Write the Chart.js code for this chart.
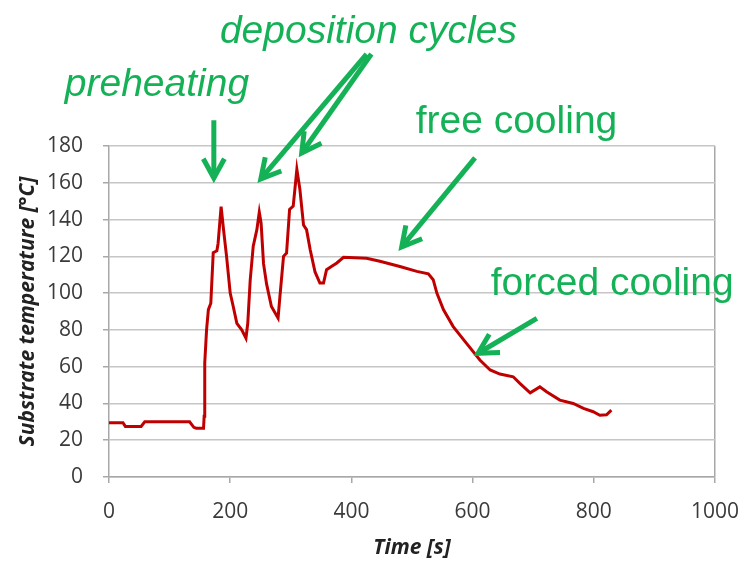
<!DOCTYPE html>
<html>
<head>
<meta charset="utf-8">
<script src="https://cdn.jsdelivr.net/npm/chart.js@4"></script>
<style>
  html, body { margin: 0; padding: 0; background: #fff; }
  #wrap { width: 747px; height: 567px; }
</style>
</head>
<body>
<div id="wrap"><canvas id="temp-chart" width="747" height="567"></canvas></div>
<script>
// time [s] and substrate temperature [°C]
const times = [0, 23, 27, 53, 59, 133, 140, 144, 156, 157, 158, 161, 164, 168, 172, 178, 180, 185, 189,
  194, 200, 205, 211, 219, 226, 229, 233, 238, 244, 248, 251, 255, 260, 268, 279, 282, 288, 293, 298,
  304, 310, 315, 321, 326, 332, 340, 348, 354, 359, 367, 376, 387, 425, 447, 480, 508, 527, 535, 541,
  552, 568, 590, 612, 629, 645, 667, 678, 695, 711, 722, 744, 766, 783, 799, 810, 821, 829];
const temps = [29.5, 29.5, 27.5, 27.5, 30, 30, 27, 26.5, 26.5, 33, 62, 80, 91, 94.5, 122, 123, 127, 147, 134.5,
  120, 100, 92.7, 83.6, 80, 75.5, 83.6, 107, 125.5, 134.5, 144, 138, 116, 105, 92.7, 86.4, 98, 120, 121.8, 145.5,
  147.3, 167.3, 156.4, 137, 134.5, 123.6, 111.5, 105.5, 105.5, 112.7, 114.5, 116.4, 119.5, 119, 117.3, 114.5, 111.8, 110.5, 107.3, 100,
  90.9, 81.8, 72.7, 63.6, 58.2, 56, 54.5, 50.9, 45.8, 49, 46.4, 41.8, 40, 37.3, 35.5, 33.6, 33.8, 36.4];
const xTicks = [0, 200, 400, 600, 800, 1000];

// annotations, in data units
const notes = [
  { text: "preheating", x: -73, y: 207, italic: true },
  { text: "deposition cycles", x: 183, y: 236, italic: true },
  { text: "free cooling", x: 506, y: 187, italic: false },
  { text: "forced cooling", x: 630, y: 99, italic: false }
];
const arrows = [
  [173, 194, 173, 162.6],
  [425, 230, 250.5, 162.1],
  [433, 230, 318, 176.2],
  [604, 173.5, 483, 125.1],
  [706, 86.3, 609, 67.3]
];

const green = "#14b157";
const gray = "#a8a8a8";

const annotate = {
  id: "annotate",
  afterDraw(chart) {
    const { ctx, scales: { x, y } } = chart;
    ctx.save();
    ctx.fillStyle = green;
    ctx.strokeStyle = green;
    ctx.textBaseline = "alphabetic";
    notes.forEach((n) => {
      ctx.font = (n.italic ? "italic " : "") + "39px 'Liberation Sans', Arial, sans-serif";
      ctx.fillText(n.text, x.getPixelForValue(n.x), y.getPixelForValue(n.y));
    });
    ctx.lineWidth = 5;
    ctx.lineJoin = "miter";
    arrows.forEach((a) => {
      const x1 = x.getPixelForValue(a[0]), y1 = y.getPixelForValue(a[1]);
      const x2 = x.getPixelForValue(a[2]), y2 = y.getPixelForValue(a[3]);
      const ang = Math.atan2(y2 - y1, x2 - x1);
      ctx.beginPath();
      ctx.moveTo(x1, y1);
      ctx.lineTo(x2, y2);
      ctx.stroke();
      const len = 22, spread = 0.5;
      ctx.beginPath();
      ctx.moveTo(x2 - len * Math.cos(ang - spread), y2 - len * Math.sin(ang - spread));
      ctx.lineTo(x2, y2);
      ctx.lineTo(x2 - len * Math.cos(ang + spread), y2 - len * Math.sin(ang + spread));
      ctx.stroke();
    });
    ctx.restore();
  }
};

const ctx = document.getElementById("temp-chart").getContext("2d");

new Chart(ctx, {
  type: "line",
  plugins: [annotate],
  data: {
    datasets: [
      {
        data: times.map((t, i) => ({ x: t, y: temps[i] })),
        borderColor: "#c00000",
        borderWidth: 3,
        pointRadius: 0,
        tension: 0,
      },
    ],
  },
  options: {
    responsive: false,
    animation: false,
    layout: { padding: { top: 146, right: 32, left: 1, bottom: 0 } },
    plugins: { legend: { display: false }, tooltip: { enabled: false } },
    scales: {
      x: {
        type: "linear",
        min: 0,
        max: 1000,
        afterBuildTicks: (s) => { s.ticks = xTicks.map((v) => ({ value: v })); },
        afterFit: (s) => { s.height = 90; s.paddingRight = 0; s.paddingLeft = 0; },
        border: { color: gray, width: 1.5 },
        grid: {
          color: (c) => (c.tick && c.tick.value === 1000 ? gray : "rgba(0,0,0,0)"),
          lineWidth: 1.5,
          tickColor: gray,
          tickLength: 6,
        },
        ticks: {
          color: "#3a3a3a",
          padding: 16,
          maxRotation: 0,
          callback: (v) => String(v),
          font: { family: "'Open Sans'", size: 21 },
        },
        title: {
          display: true,
          text: "Time [s]",
          color: "#222",
          padding: { top: 4, bottom: 6 },
          font: { family: "'Open Sans'", size: 21, weight: "bold", style: "italic" },
        },
      },
      y: {
        min: 0,
        max: 180,
        afterFit: (s) => { s.width = 108; },
        border: { color: gray, width: 1.5 },
        grid: { color: "#c6c6c6", lineWidth: 1.5, tickColor: gray, tickLength: 6 },
        ticks: {
          stepSize: 20,
          color: "#3a3a3a",
          padding: 20,
          font: { family: "'Open Sans'", size: 21 },
        },
        title: {
          display: true,
          text: "Substrate temperature [°C]",
          color: "#222",
          padding: { top: 14, bottom: 4 },
          font: { family: "'Open Sans'", size: 21, weight: "bold", style: "italic" },
        },
      },
    },
  },
});
</script>
</body>
</html>
